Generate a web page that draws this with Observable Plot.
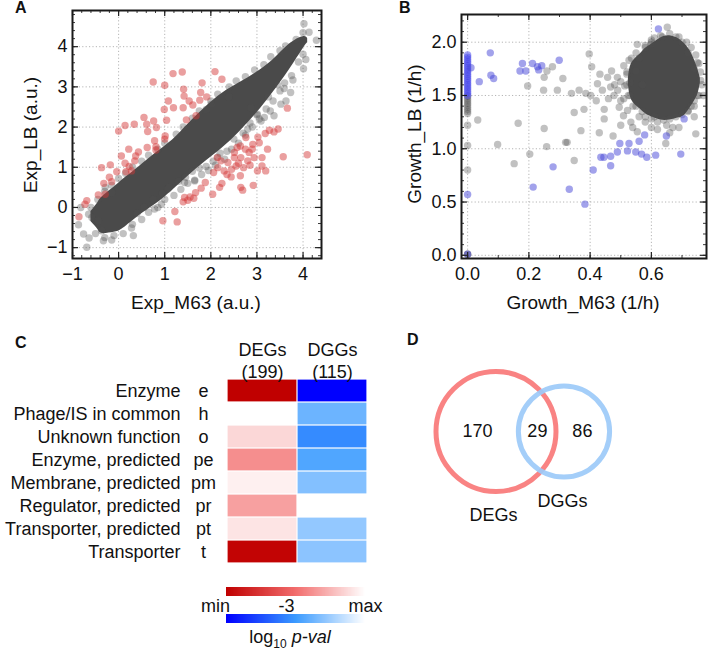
<!DOCTYPE html>
<html><head><meta charset="utf-8">
<script src="https://cdn.jsdelivr.net/npm/d3@7"></script>
<script src="https://cdn.jsdelivr.net/npm/@observablehq/plot@0.6"></script>
<style>
body{margin:0;background:#fff;}
#root{position:relative;width:708px;height:651px;font-family:"Liberation Sans",Arial,sans-serif;color:#111;overflow:hidden;background:#fff;}
#root > svg{position:absolute;}
.pl{position:absolute;font-weight:bold;font-size:16px;line-height:16px;}
.ttl{position:absolute;font-size:19px;line-height:19px;white-space:nowrap;transform:translate(-50%,-50%);}
.rot{transform:translate(-50%,-50%) rotate(-90deg);}
</style></head><body><div id="root"></div>
<script>
const FONT = '"Liberation Sans", Arial, sans-serif';
// ---------- Panel A data ----------
const aXTicks = [-1, 0, 1, 2, 3, 4];
const aYTicks = [-1, 0, 1, 2, 3, 4];
const aRed = [[1.38,3.37],[1.18,3.33],[2.09,3.38],[0.75,3.12],[1.0,3.04],[1.41,2.94],[1.81,3.10],[2.24,3.19],[1.78,2.86],[1.91,2.75],[1.42,2.77],[1.08,2.65],[1.53,2.65],[1.76,2.67],[0.99,2.44],[1.19,2.48],[1.40,2.48],[1.61,2.55],[0.55,2.24],[0.76,2.15],[1.04,2.17],[1.47,2.18],[1.68,2.28],[0.0,1.90],[0.14,2.04],[0.34,2.07],[0.61,2.07],[0.82,1.99],[1.01,1.78],[0.63,1.89],[0.78,1.66],[0.81,1.51],[1.0,1.70],[0.22,1.45],[0.43,1.38],[0.62,1.49],[0.81,1.43],[0.06,1.28],[0.37,1.28],[0.35,1.16],[-0.37,0.99],[-0.18,1.06],[0.14,1.10],[0.23,1.02],[-0.04,0.89],[0.16,0.89],[0.28,0.91],[-0.20,0.75],[-0.15,0.64],[-0.32,0.60],[-0.44,0.31],[-0.29,0.33],[-0.69,0.17],[-0.73,0.08],[-0.86,-0.23],
[3.02,1.75],[3.18,1.84],[3.27,1.92],[3.46,1.95],[3.37,1.88],[3.66,2.47],[3.57,1.26],[4.09,1.31],[2.91,1.57],[3.05,1.61],[2.75,1.45],[2.57,1.49],[2.83,1.37],[2.51,1.24],[2.65,1.24],[2.80,1.16],[2.94,1.24],[3.11,1.24],[3.23,1.45],[3.11,1.03],[3.01,0.91],[3.19,0.91],[2.71,0.99],[2.55,1.03],[2.37,1.12],[2.22,1.16],[2.15,0.99],[2.06,0.87],[2.29,0.91],[2.44,0.76],[2.64,0.79],[2.92,0.55],[2.65,0.50],[2.69,0.43],[2.24,0.60],[2.19,0.50],[1.88,0.62],[1.79,0.48],[2.04,0.33],[1.67,0.37],[1.63,0.23],[1.50,0.18],[1.40,0.14],[1.43,0.25],[1.55,0.26],[1.22,-0.10],[1.27,-0.36],[0.96,-0.33],[2.14,1.24],[2.51,1.37],[2.76,1.74],[2.64,1.53],[2.85,1.05],[2.60,1.10],[2.45,0.95],[2.35,0.82],[2.90,1.45]];
const aGrey = [[4.02,4.57],[4.29,4.16],[4.13,4.36],[4.0,3.81],[4.06,3.68],[4.01,3.45],[3.78,3.17],[3.59,2.96],[3.73,2.86],[3.52,2.57],[3.63,2.65],[3.37,2.28],[3.16,2.24],[3.29,2.40],[3.01,2.32],[2.87,2.48],[2.39,2.75],[2.01,2.57],[1.90,2.44],[3.09,2.15],[-0.87,-0.43],[-0.76,-0.66],[-0.69,-0.99],[-0.64,-0.76],[-0.37,-0.58],[-0.33,-0.83],[-0.15,-0.81],[0.28,-0.51],[0.32,-0.70],[-0.58,-0.25],[-0.44,-0.33],[-0.82,0.0],[0.78,-0.04],[0.93,0.08],[1.43,0.62],[1.65,0.66],[1.07,0.46],[-0.29,0.50],[-0.15,0.37],[-0.65,-0.17],
[-0.6,0.0],[-0.45,0.2],[-0.3,0.4],[-0.15,0.55],[0.0,0.72],[0.15,0.85],[0.3,1.0],[0.5,1.15],[0.65,1.3],[0.85,1.45],[1.0,1.6],[1.25,1.82],[1.4,2.0],[1.6,2.22],[1.75,2.4],[2.0,2.65],[2.15,2.82],[2.4,3.0],[2.55,3.15],[2.75,3.25],[2.95,3.42],[3.15,3.55],[3.3,3.75],[3.5,3.9],[3.62,4.02],[3.85,4.18],[4.0,4.35],
[-0.5,-0.65],[-0.3,-0.75],[-0.1,-0.7],[0.1,-0.65],[0.3,-0.42],[0.5,-0.3],[0.65,-0.12],[0.85,0.0],[1.0,0.2],[1.2,0.3],[1.35,0.45],[1.5,0.6],[1.65,0.68],[1.8,0.82],[1.95,0.92],[2.1,1.05],[2.3,1.2],[2.45,1.45],[2.6,1.6],[2.75,1.8],[2.9,2.0],[3.05,2.2],[3.2,2.45],[3.35,2.65],[3.5,2.9],[3.6,3.1],[3.75,3.28],[3.9,3.62],[1.3,0.65],[1.6,0.9],[1.9,1.02],[2.2,1.35],[2.5,1.7],[2.85,2.1],[1.1,0.5],[0.75,0.2],[0.4,-0.15],[1.75,0.98],[2.05,1.15],[2.35,1.4],[2.7,1.85],[3.0,2.3],[1.45,0.75],[0.95,0.35],[0.55,0.0],[3.25,2.75],[3.45,3.05],[2.8,1.95],[2.15,1.25]];
const aCoreX  = [-0.6,-0.45,-0.35,-0.1, 0.1, 0.45, 0.8, 1.17, 1.53, 1.89, 2.25, 2.62, 2.98, 3.34, 3.7, 4.0, 4.1];
const aCoreLo = [-0.35,-0.55,-0.65,-0.62,-0.52,-0.2, 0.08, 0.43, 0.8, 1.15, 1.48, 1.88, 2.33, 2.85, 3.42, 3.95, 4.1];
const aCoreHi = [-0.1, 0.12, 0.27, 0.5, 0.7, 1.02, 1.35, 1.68, 2.1, 2.5, 2.84, 3.1, 3.35, 3.66, 4.06, 4.25, 4.2];

// ---------- Panel B data ----------
const bXTicks = [0, 0.2, 0.4, 0.6];
const bYTicks = [0, 0.5, 1.0, 1.5, 2.0];
const bBlue = [[0.623,2.125],[0.074,1.90],[0.011,1.76],[0.038,1.63],[0.076,1.69],[0.085,1.66],[0.171,1.73],[0.179,1.80],[0.19,1.73],[0.212,1.80],[0.228,1.77],[0.232,1.74],[0.242,1.78],[0.299,1.83],[0.214,0.64],[0.279,0.83],[0.332,0.62],[0.383,0.48],[0.41,0.80],[0.435,0.92],[0.445,0.92],[0.467,0.93],[0.467,0.84],[0.489,0.97],[0.497,1.05],[0.522,0.98],[0.527,1.05],[0.56,1.07],[0.549,0.97],[0.568,0.95],[0.585,0.92],[0.578,1.13],[0.614,0.94],[0.649,1.12],[0.707,1.28],[0.696,0.95],[0.0,0.57],[0.0,0.01]];
const bBlueStripY = [1.50,1.52,1.54,1.56,1.58,1.60,1.62,1.64,1.66,1.68,1.70,1.72,1.74,1.76,1.78,1.80,1.82,1.84,1.86,1.88];
const bGreyStripY = [1.33,1.35,1.37,1.39,1.41,1.43,1.45,1.47,1.49,1.22,1.03,0.80,0.01,0.01];
const bGrey = [[0.098,1.04],[0.152,0.86],[0.165,1.24],[0.196,1.59],[0.203,0.95],[0.25,1.67],[0.248,1.55],[0.259,1.73],[0.277,1.77],[0.25,1.19],[0.258,1.02],[0.293,1.55],[0.311,1.66],[0.32,1.06],[0.325,1.06],[0.348,0.89],[0.348,1.34],[0.339,1.52],[0.364,1.55],[0.37,1.17],[0.38,1.37],[0.386,1.52],[0.397,1.89],[0.402,1.50],[0.405,1.77],[0.424,1.61],[0.432,1.70],[0.446,1.37],[0.446,1.28],[0.457,1.67],[0.489,1.67],[0.467,1.58],[0.478,1.50],[0.495,1.39],[0.5,1.22],[0.509,1.31],[0.522,1.36],[0.533,1.25],[0.539,1.20],[0.554,1.16],[0.513,1.59],[0.527,1.83],[0.549,1.73],[0.554,1.98],[0.598,1.98],[0.636,2.05],[0.652,2.14],[0.647,1.05],[0.745,1.14],[0.761,1.64],[0.74,1.45],[0.75,1.81],[0.033,1.27],[0.5,1.45],[0.52,1.7],[0.53,1.5],[0.54,1.4],[0.56,1.3],[0.57,1.6],[0.56,1.85],[0.58,1.25],[0.6,1.2],[0.62,1.18],[0.66,1.15],[0.69,1.2],[0.72,1.35],[0.73,1.4],[0.75,1.5],[0.74,1.75],[0.72,1.9],[0.7,2.0],[0.68,2.05],[0.6,2.02],[0.58,1.95],[0.47,1.73],[0.44,1.55],[0.46,1.47],[0.42,1.45],[0.43,1.15],[0.475,1.12],
[0.52,1.6],[0.52,1.72],[0.525,1.5],[0.535,1.85],[0.55,1.9],[0.55,1.4],[0.57,1.35],[0.58,1.97],[0.6,2.0],[0.6,1.28],[0.62,1.25],[0.64,1.27],[0.66,1.28],[0.68,1.3],[0.7,1.32],[0.72,1.36],[0.74,1.4],[0.755,1.5],[0.765,1.6],[0.76,1.72],[0.755,1.8],[0.745,1.88],[0.73,1.95],[0.715,2.0],[0.69,2.05],[0.66,2.08],[0.63,2.06],[0.61,2.04],[0.65,1.22],[0.67,1.2],[0.61,1.3],[0.5,1.63],[0.51,1.78],[0.58,1.3],[0.74,1.3],[0.77,1.5],[0.49,1.55],[0.51,1.47],[0.48,1.6],[0.53,1.62]];
const bCoreX  = [0.525,0.535,0.56,0.58,0.60,0.63,0.66,0.69,0.71,0.73,0.75,0.76];
const bCoreLo = [1.6, 1.46, 1.38,1.33,1.3, 1.27,1.27,1.29,1.32,1.4, 1.5, 1.62];
const bCoreHi = [1.66,1.8,  1.88,1.94,1.98,2.04,2.06,2.03,1.98,1.9, 1.76,1.66];

// ---------- Panel C data ----------
const rowNames = ["Enzyme","Phage/IS in common","Unknown function","Enzyme, predicted","Membrane, predicted","Regulator, predicted","Transporter, predicted","Transporter"];
const rowCodes = ["e","h","o","pe","pm","pr","pt","t"];
const colNames = ["DEGs","DGGs"];
const colCounts = [199, 115];
const degLogP = [-5.3, 0, -0.72, -2.05, -0.27, -1.72, -0.49, -5.2];
const dggLogP = [-5.3, -1.99, -2.92, -2.36, -1.67, 0, -1.46, -1.56];
const pMin = -5.3, pMax = 0;
const redStops = ["#c00000", "#f26d6d", "#ffffff"];
const blueStops = ["#0000ff", "#3b9bff", "#ffffff"];
const cbTickVals = [-5.72, -3, 0];
const cbTickLabels = ["min", "-3", "max"];

// ---------- Panel D data ----------
const vennSets = ["DEGs", "DGGs"];
const vennSizes = [199, 115];
const vennCx = [0, 1.133];
const vennColors = ["#f87878", "#9ccaf8"];
const vennRegionCounts = [170, 29, 86];
const vennRegionX = [-0.31, 0.69, 1.44];
const vennLabelX = [-0.04, 1.11];
const vennLabelY = [-1.4, -1.17];

// ---------- helpers ----------
const root = document.getElementById("root");
function place(el, left, top) { el.style.left = left + "px"; el.style.top = top + "px"; root.appendChild(el); return el; }
function html(cls, text, left, top, extra) { const d = document.createElement("div"); d.className = cls; d.innerHTML = text; if (extra) d.style.cssText += extra; return place(d, left, top); }
const pts = (arr) => arr.map(([x, y]) => ({x, y}));
const band = (X, Lo, Hi) => X.map((x, i) => ({x, lo: Lo[i], hi: Hi[i]}));

function framedTicks(xt, yt, xminor, yminor, innerW, innerH) {
  const c = "#222";
  return [
    Plot.ruleX(xt, {insetTop: innerH - 6, stroke: c, strokeWidth: 1.2}),
    Plot.ruleX(xt, {insetBottom: innerH - 6, stroke: c, strokeWidth: 1.2}),
    Plot.ruleX(xminor, {insetTop: innerH - 3, stroke: c, strokeWidth: 0.9}),
    Plot.ruleX(xminor, {insetBottom: innerH - 3, stroke: c, strokeWidth: 0.9}),
    Plot.ruleY(yt, {insetRight: innerW - 6, stroke: c, strokeWidth: 1.2}),
    Plot.ruleY(yt, {insetLeft: innerW - 6, stroke: c, strokeWidth: 1.2}),
    Plot.ruleY(yminor, {insetRight: innerW - 3, stroke: c, strokeWidth: 0.9}),
    Plot.ruleY(yminor, {insetLeft: innerW - 3, stroke: c, strokeWidth: 0.9})
  ];
}
const gridStyle = {stroke: "#b5b5b5", strokeDasharray: "1.2,2.2", strokeWidth: 1};
const greyDot = {x: "x", y: "y", r: 3.7, fill: "#4d4d4d", fillOpacity: 0.35};

// ---------- Panel A ----------
{
  const W = 340, H = 300, mL = 72, mR = 19, mT = 10, mB = 42;
  const plot = Plot.plot({
    width: W, height: H, marginLeft: mL, marginRight: mR, marginTop: mT, marginBottom: mB,
    style: {fontSize: "18px", fontFamily: FONT, color: "#111", background: "transparent"},
    x: {domain: [-1, 4.4], ticks: aXTicks, tickFormat: "d", tickSize: 0, tickPadding: 9, label: null},
    y: {domain: [-1.27, 4.9], ticks: aYTicks, tickFormat: "d", tickSize: 0, tickPadding: 5, label: null},
    marks: [
      Plot.ruleX(aXTicks, gridStyle),
      Plot.ruleY(aYTicks, gridStyle),
      Plot.areaY(band(aCoreX, aCoreLo, aCoreHi), {x: "x", y1: "lo", y2: "hi", fill: "#4a4a4a", curve: "natural"}),
      Plot.dot(pts(aGrey), greyDot),
      Plot.dot(pts(aRed), {x: "x", y: "y", r: 3.7, fill: "rgb(212,55,55)", fillOpacity: 0.48}),
      ...framedTicks(aXTicks, aYTicks, d3.ticks(-1, 4.4, 27), d3.ticks(-1.2, 4.9, 30), W - mL - mR, H - mT - mB),
      Plot.frame({stroke: "#1a1a1a", strokeWidth: 2})
    ]
  });
  place(plot, 0, 0);
  html("ttl", "Exp_M63 (a.u.)", 196, 302);
  html("ttl rot", "Exp_LB (a.u.)", 30, 135);
  html("pl", "A", 15, 0);
}

// ---------- Panel B ----------
{
  const W = 354, H = 300, mL = 107, mR = 2, mT = 14, mB = 42;
  const plot = Plot.plot({
    width: W, height: H, marginLeft: mL, marginRight: mR, marginTop: mT, marginBottom: mB,
    style: {fontSize: "18px", fontFamily: FONT, color: "#111", background: "transparent"},
    x: {domain: [-0.02, 0.78], ticks: bXTicks, tickFormat: ".1f", tickSize: 0, tickPadding: 9, label: null},
    y: {domain: [-0.03, 2.26], ticks: bYTicks, tickFormat: ".1f", tickSize: 0, tickPadding: 5, label: null},
    marks: [
      Plot.ruleX(bXTicks, gridStyle),
      Plot.ruleY(bYTicks, gridStyle),
      Plot.areaY(band(bCoreX, bCoreLo, bCoreHi), {x: "x", y1: "lo", y2: "hi", fill: "#4a4a4a", curve: "natural"}),
      Plot.dot(pts(bGrey), greyDot),
      Plot.dot(bGreyStripY, {x: () => 0, y: d => d, r: 3.7, fill: "#4d4d4d", fillOpacity: 0.35}),
      Plot.dot(bBlueStripY, {x: () => 0, y: d => d, r: 3.7, fill: "rgb(70,70,235)", fillOpacity: 0.5}),
      Plot.dot(pts(bBlue), {x: "x", y: "y", r: 3.7, fill: "rgb(70,70,215)", fillOpacity: 0.5}),
      ...framedTicks(bXTicks, bYTicks, d3.ticks(0, 0.78, 8), d3.ticks(0, 2.26, 22), W - mL - mR, H - mT - mB),
      Plot.frame({stroke: "#1a1a1a", strokeWidth: 2})
    ]
  });
  place(plot, 354, 0);
  html("ttl", "Growth_M63 (1/h)", 583, 302);
  html("ttl rot", "Growth_LB (1/h)", 414, 134);
  html("pl", "B", 399, 0);
}

// ---------- Panel C ----------
{
  const mid = (pMin + pMax) / 2;
  const redC = d3.scaleLinear().domain([pMin, mid, pMax]).range(redStops).interpolate(d3.interpolateRgb);
  const blueC = d3.scaleLinear().domain([pMin, mid, pMax]).range(blueStops).interpolate(d3.interpolateRgb);
  const cells = [];
  rowCodes.forEach((code, i) => {
    cells.push({col: colNames[0], row: code, v: degLogP[i]});
    cells.push({col: colNames[1], row: code, v: dggLogP[i]});
  });
  const rows = rowCodes.map((code, i) => ({code, name: rowNames[i]}));
  const cols = colNames.map((c, i) => ({col: c, n: colCounts[i]}));
  const plot = Plot.plot({
    width: 380, height: 250, marginLeft: 226, marginRight: 13, marginTop: 58, marginBottom: 6,
    style: {fontSize: "18px", fontFamily: FONT, color: "#111", background: "transparent"},
    x: {domain: colNames, padding: 0, axis: null},
    y: {domain: rowCodes, padding: 0, axis: null},
    marks: [
      Plot.cell(cells, {x: "col", y: "row", fill: d => (d.col === "DEGs" ? redC : blueC)(d.v), inset: 0.6}),
      Plot.text(rows, {y: "code", text: "name", frameAnchor: "left", dx: -46, textAnchor: "end", fill: "#111"}),
      Plot.text(rows, {y: "code", text: "code", frameAnchor: "left", dx: -23, textAnchor: "middle", fill: "#111"}),
      Plot.text(cols, {x: "col", text: d => `${d.col}\n(${d.n})`, frameAnchor: "top", lineAnchor: "bottom", lineHeight: 1.2, dy: -1, fill: "#111"})
    ]
  });
  place(plot, 0, 320);

  const legOpts = (stops, extra) => ({
    color: {type: "linear", domain: [pMin, mid, pMax], range: stops, interpolate: "rgb"},
    width: 380, marginLeft: 226, marginRight: 15, marginTop: 0,
    label: null, tickSize: 0,
    style: {fontSize: "18px", fontFamily: FONT, color: "#111", background: "transparent"},
    ...extra
  });
  const legRed = Plot.legend(legOpts(redStops, {height: 30, marginBottom: 21, ticks: cbTickVals, tickFormat: (d, i) => cbTickLabels[i]}));
  d3.select(legRed).selectAll(".tick line").remove();
  place(legRed, 0, 587);
  const legBlue = Plot.legend(legOpts(blueStops, {height: 9, marginBottom: 0, ticks: []}));
  d3.select(legBlue).selectAll(".tick line").remove();
  place(legBlue, 0, 614);
  html("ttl", 'log<sub style="font-size:12px">10</sub> <i>p-val</i>', 290, 641, "font-size:18px;");
  html("pl", "C", 15, 335);
}

// ---------- Panel D ----------
{
  const circles = vennSets.map((s, i) => ({set: s, n: vennSizes[i], cx: vennCx[i], color: vennColors[i]}));
  const regions = vennRegionCounts.map((n, i) => ({n, x: vennRegionX[i]}));
  const labels = vennSets.map((s, i) => ({s, x: vennLabelX[i], y: vennLabelY[i]}));
  const plot = Plot.plot({
    width: 328, height: 330, margin: 0,
    style: {fontSize: "18px", fontFamily: FONT, color: "#111", background: "transparent"},
    x: {domain: [-1.925, 3.542], axis: null},
    y: {domain: [-3.65, 1.85], axis: null},
    r: {type: "sqrt", domain: [0, 199], range: [0, 60]},
    marks: [
      Plot.dot(circles, {x: "cx", y: () => 0, r: "n", stroke: "color", strokeWidth: 5, strokeOpacity: 0.92, fill: "none"}),
      Plot.text(regions, {x: "x", y: () => 0, text: "n", fill: "#111"}),
      Plot.text(labels, {x: "x", y: "y", text: "s", fill: "#111"})
    ]
  });
  place(plot, 380, 320);
  html("pl", "D", 407, 332);
}
</script>
</body></html>
